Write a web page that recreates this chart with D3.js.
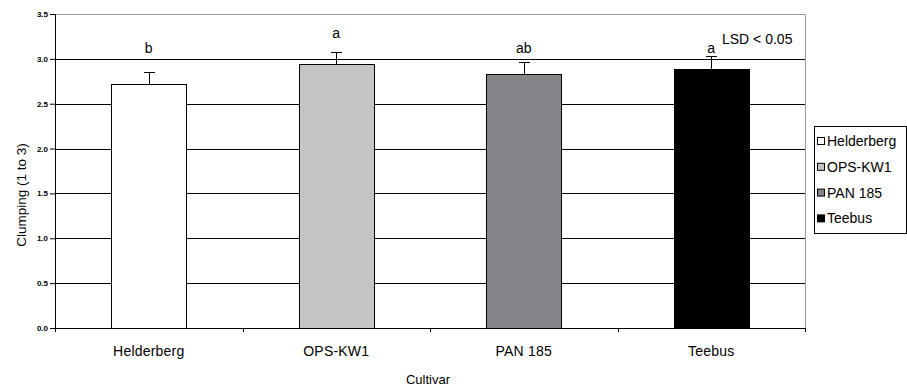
<!DOCTYPE html>
<html>
<head>
  <meta charset="utf-8">
  <title>Clumping by cultivar</title>
  <script src="https://d3js.org/d3.v7.min.js"></script>
  <style>
    body { margin: 0; background: #fff; }
    svg text { font-family: "Liberation Sans", Arial, sans-serif; fill: #000; }
    .ytick text { font-size: 8px; font-weight: bold; }
  </style>
</head>
<body>
<div id="chart"></div>
<script>
"use strict"

// dados
var cultivares = ["Helderberg", "OPS-KW1", "PAN 185", "Teebus"];
var medias = [2.72, 2.94, 2.83, 2.89];
var erros = [0.13, 0.14, 0.13, 0.14];
var letras = ["b", "a", "ab", "a"];
var letrasPos = [3.07, 3.23, 3.07, 3.07];
var cores = ["#ffffff", "#c4c3c6", "#868488", "#000000"];
var yTicks = [0, 0.5, 1.0, 1.5, 2.0, 2.5, 3.0, 3.5];

var larguraSVG = 907, alturaSVG = 388;
var margin = {top: 14, left: 55, right: 102, bottom: 60};
var larguraVis = 805 - margin.left,
    alturaVis = 328 - margin.top;

var svg = d3.select("#chart").append("svg")
    .attr("width", larguraSVG)
    .attr("height", alturaSVG);

var grafico = svg.append("g")
    .attr("transform", "translate(" + margin.left + "," + margin.top + ")");

var xScale = d3.scaleBand()
    .domain(cultivares)
    .range([0, larguraVis])
    .paddingInner(0.6)
    .paddingOuter(0.3);

var yScale = d3.scaleLinear()
    .domain([0, 3.5])
    .range([alturaVis, 0]);

// linhas de grade
grafico.selectAll(".grid")
    .data(yTicks.filter(d => d > 0 && d < 3.5))
    .enter().append("line")
      .attr("x1", 0).attr("x2", larguraVis)
      .attr("y1", d => Math.round(yScale(d)) + 0.5)
      .attr("y2", d => Math.round(yScale(d)) + 0.5)
      .attr("stroke", "#000").attr("stroke-width", 1);

// borda da area de plotagem (topo e direita)
grafico.append("path")
    .attr("d", "M0," + (Math.round(yScale(3.5)) + 0.5) + "H" + (larguraVis + 0.5) + "V" + alturaVis)
    .attr("fill", "none").attr("stroke", "#999").attr("stroke-width", 1);

// barras
grafico.selectAll(".barra")
    .data(cultivares)
    .enter().append("rect")
      .attr("x", d => Math.round(xScale(d)) + 0.5)
      .attr("y", (d, i) => Math.round(yScale(medias[i])) + 0.5)
      .attr("width", xScale.bandwidth())
      .attr("height", (d, i) => alturaVis - Math.round(yScale(medias[i])))
      .attr("fill", (d, i) => cores[i])
      .attr("stroke", "#000").attr("stroke-width", 1);

// barras de erro (so para cima)
var erro = grafico.selectAll(".erro")
    .data(cultivares)
    .enter().append("g");
erro.append("line")
    .attr("x1", d => Math.round(xScale(d) + xScale.bandwidth() / 2) + 0.5)
    .attr("x2", d => Math.round(xScale(d) + xScale.bandwidth() / 2) + 0.5)
    .attr("y1", (d, i) => yScale(medias[i]))
    .attr("y2", (d, i) => Math.round(yScale(medias[i] + erros[i])) + 0.5)
    .attr("stroke", "#000");
erro.append("line")
    .attr("x1", d => Math.round(xScale(d) + xScale.bandwidth() / 2) - 5)
    .attr("x2", d => Math.round(xScale(d) + xScale.bandwidth() / 2) + 6)
    .attr("y1", (d, i) => Math.round(yScale(medias[i] + erros[i])) + 0.5)
    .attr("y2", (d, i) => Math.round(yScale(medias[i] + erros[i])) + 0.5)
    .attr("stroke", "#000");

// letras de significancia
grafico.selectAll(".letra")
    .data(cultivares)
    .enter().append("text")
      .attr("x", d => xScale(d) + xScale.bandwidth() / 2)
      .attr("y", (d, i) => yScale(letrasPos[i]))
      .attr("text-anchor", "middle")
      .style("font-size", "14px")
      .text((d, i) => letras[i]);

grafico.append("text")
    .attr("x", 667)
    .attr("y", 30)
    .style("font-size", "14px")
    .text("LSD < 0.05");

// eixos
var eixoY = grafico.append("g")
    .attr("class", "ytick")
    .call(d3.axisLeft(yScale).tickValues(yTicks).tickFormat(d3.format(".1f")).tickSize(5).tickPadding(2));
eixoY.select(".domain").attr("stroke", "#000");

var bordas = d3.range(cultivares.length + 1).map(i => i * xScale.step());
grafico.append("line")
    .attr("x1", 0).attr("x2", larguraVis + 1)
    .attr("y1", alturaVis + 0.5).attr("y2", alturaVis + 0.5)
    .attr("stroke", "#000");
grafico.selectAll(".xtick")
    .data(bordas)
    .enter().append("line")
      .attr("x1", d => Math.round(d) + 0.5).attr("x2", d => Math.round(d) + 0.5)
      .attr("y1", alturaVis).attr("y2", alturaVis + 4)
      .attr("stroke", "#000");

grafico.selectAll(".xlabel")
    .data(cultivares)
    .enter().append("text")
      .attr("x", d => xScale(d) + xScale.bandwidth() / 2)
      .attr("y", alturaVis + 28)
      .attr("text-anchor", "middle")
      .style("font-size", "14px")
      .style("letter-spacing", "0.2px")
      .text(d => d);

svg.append("text")
    .attr("x", 428)
    .attr("y", 384)
    .attr("text-anchor", "middle")
    .style("font-size", "13px")
    .text("Cultivar");

svg.append("text")
    .attr("transform", "translate(26,195) rotate(-90)")
    .attr("text-anchor", "middle")
    .style("font-size", "13.5px")
    .text("Clumping (1 to 3)");

// legenda
var legenda = svg.append("g").attr("transform", "translate(814,126)");
legenda.append("rect")
    .attr("x", 0.5).attr("y", 0.5)
    .attr("width", 92).attr("height", 107)
    .attr("fill", "#fff").attr("stroke", "#000");
var item = legenda.selectAll(".item")
    .data(cultivares)
    .enter().append("g")
      .attr("transform", (d, i) => "translate(0," + (15 + i * 25.8) + ")");
item.append("rect")
    .attr("x", 3.5).attr("y", -3.5)
    .attr("width", 7).attr("height", 7)
    .attr("fill", (d, i) => cores[i])
    .attr("stroke", "#000");
item.append("text")
    .attr("x", 13)
    .attr("y", 5)
    .style("font-size", "14px")
    .text(d => d);
</script>
</body>
</html>
